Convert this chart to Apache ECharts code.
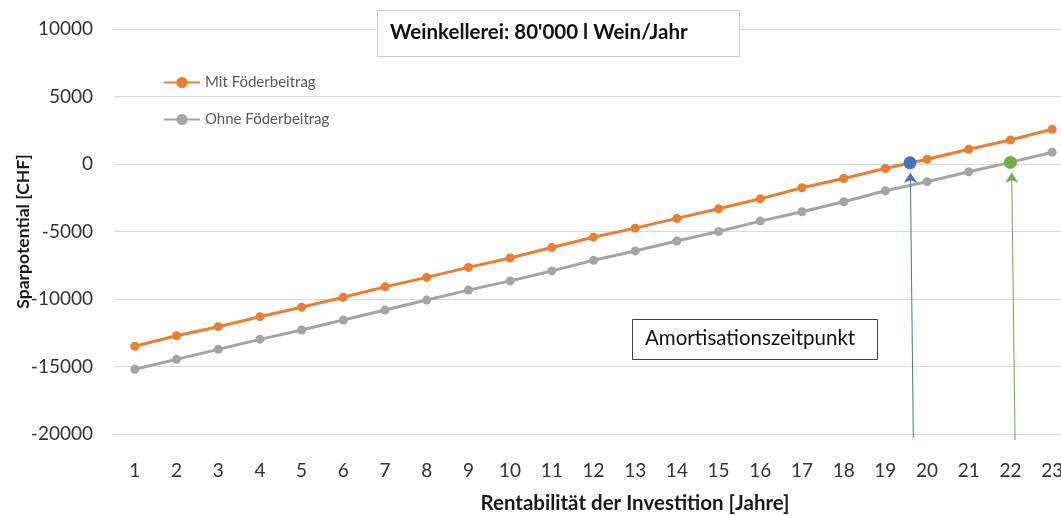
<!DOCTYPE html>
<html>
<head>
<meta charset="utf-8">
<script src="https://cdn.jsdelivr.net/npm/echarts@6/dist/echarts.min.js"></script>
<style>
html,body{margin:0;padding:0;background:#fff;}
#main{width:1061px;height:515px;}
</style>
</head>
<body>
<div id="main"></div>
<script>
var years = ['1','2','3','4','5','6','7','8','9','10','11','12','13','14','15','16','17','18','19','20','21','22','23'];
var mitFoerder = [-13500,-12720,-12050,-11310,-10610,-9870,-9100,-8400,-7660,-6960,-6190,-5420,-4750,-4030,-3320,-2580,-1760,-1070,-330,350,1090,1780,2570];
var ohneFoerder = [-15200,-14470,-13730,-12990,-12300,-11560,-10820,-10080,-9340,-8660,-7920,-7130,-6440,-5700,-5000,-4230,-3540,-2800,-1980,-1310,-570,120,870];
var yTicks = [-20000,-15000,-10000,-5000,0,5000,10000];
var breakEvenMit = [19.59, 90];
var breakEvenOhne = [22, 120];
var arrowMit = [[19.67, -20300], [19.6, -650]];
var arrowOhne = [[22.11, -20450], [22.03, -650]];
var seriesNames = ['Mit Föderbeitrag', 'Ohne Föderbeitrag'];
var chartTitle = "Weinkellerei: 80'000 l Wein/Jahr";
var annotation = 'Amortisationszeitpunkt';

var FONT = 'Lato';
var chart = echarts.init(document.getElementById('main'));
chart.setOption({
  backgroundColor: '#ffffff',
  animation: false,
  textStyle: { fontFamily: FONT },
  grid: { left: 114, width: 959, top: 29, height: 405, containLabel: false, outerBoundsMode: 'none' },
  legend: {
    orient: 'vertical', left: 158, top: 70, itemWidth: 36, itemHeight: 14, itemGap: 22,
    data: seriesNames,
    textStyle: { fontFamily: FONT, fontSize: 15, color: '#595959' }
  },
  xAxis: [{
    type: 'category', data: years, boundaryGap: true,
    axisLine: { show: false }, axisTick: { show: false },
    axisLabel: { fontFamily: FONT, fontSize: 19, color: '#333333', margin: 27, interval: 0 },
    name: 'Rentabilität der Investition [Jahre]', nameLocation: 'middle', nameGap: 59,
    nameTextStyle: { fontFamily: FONT, fontSize: 20.5, fontWeight: 'bold', color: '#1a1a1a', padding: [0, 0, 0, 83] }
  }, {
    type: 'value', min: 0.5, max: 23.5, show: false
  }],
  yAxis: {
    type: 'value', min: yTicks[0], max: yTicks[yTicks.length - 1], interval: 5000,
    axisLine: { show: false }, axisTick: { show: false },
    splitLine: { lineStyle: { color: '#d9d9d9', width: 1 } },
    axisLabel: { fontFamily: FONT, fontSize: 19, color: '#333333', margin: 21, formatter: function (v) { return String(v); } },
    name: 'Sparpotential [CHF]', nameLocation: 'middle', nameGap: 82, nameMoveOverlap: false,
    nameTextStyle: { fontFamily: FONT, fontSize: 17.5, fontWeight: 'bold', color: '#1a1a1a' }
  },
  series: [{
    name: seriesNames[0], type: 'line', data: mitFoerder,
    symbol: 'circle', symbolSize: 9, showSymbol: true,
    itemStyle: { color: '#ED7D31' }, lineStyle: { color: '#ED7D31', width: 3 }, z: 3
  }, {
    name: seriesNames[1], type: 'line', data: ohneFoerder,
    symbol: 'circle', symbolSize: 9, showSymbol: true,
    itemStyle: { color: '#A5A5A5' }, lineStyle: { color: '#A5A5A5', width: 3 }, z: 3
  }, {
    type: 'lines', coordinateSystem: 'cartesian2d', xAxisIndex: 1, yAxisIndex: 0, clip: false,
    symbol: ['none', 'arrow'], symbolSize: 10,
    data: [
      { coords: arrowMit, lineStyle: { color: '#4472C4' } },
      { coords: arrowOhne, lineStyle: { color: '#70AD47' } }
    ],
    lineStyle: { width: 1, opacity: 1 }, z: 4
  }, {
    type: 'scatter', xAxisIndex: 1, yAxisIndex: 0, symbolSize: 13,
    data: [
      { value: breakEvenMit, itemStyle: { color: '#4472C4', opacity: 1 } },
      { value: breakEvenOhne, itemStyle: { color: '#70AD47', opacity: 1 } }
    ], z: 5
  }],
  graphic: [{
    type: 'rect', left: 377, top: 10, z: 100,
    shape: { width: 362, height: 46 },
    style: { fill: '#ffffff', stroke: '#d0d0d0', lineWidth: 1 }
  }, {
    type: 'text', left: 390, top: 22, z: 101,
    style: { text: chartTitle, fontFamily: FONT, fontSize: 20.5, fontWeight: 'bold', fill: '#111111' }
  }, {
    type: 'rect', left: 632, top: 319, z: 100,
    shape: { width: 245, height: 40 },
    style: { fill: '#ffffff', stroke: '#404040', lineWidth: 1 }
  }, {
    type: 'text', left: 645, top: 328, z: 101,
    style: { text: annotation, fontFamily: FONT, fontSize: 20.5, fill: '#111111' }
  }]
});
</script>
</body>
</html>
